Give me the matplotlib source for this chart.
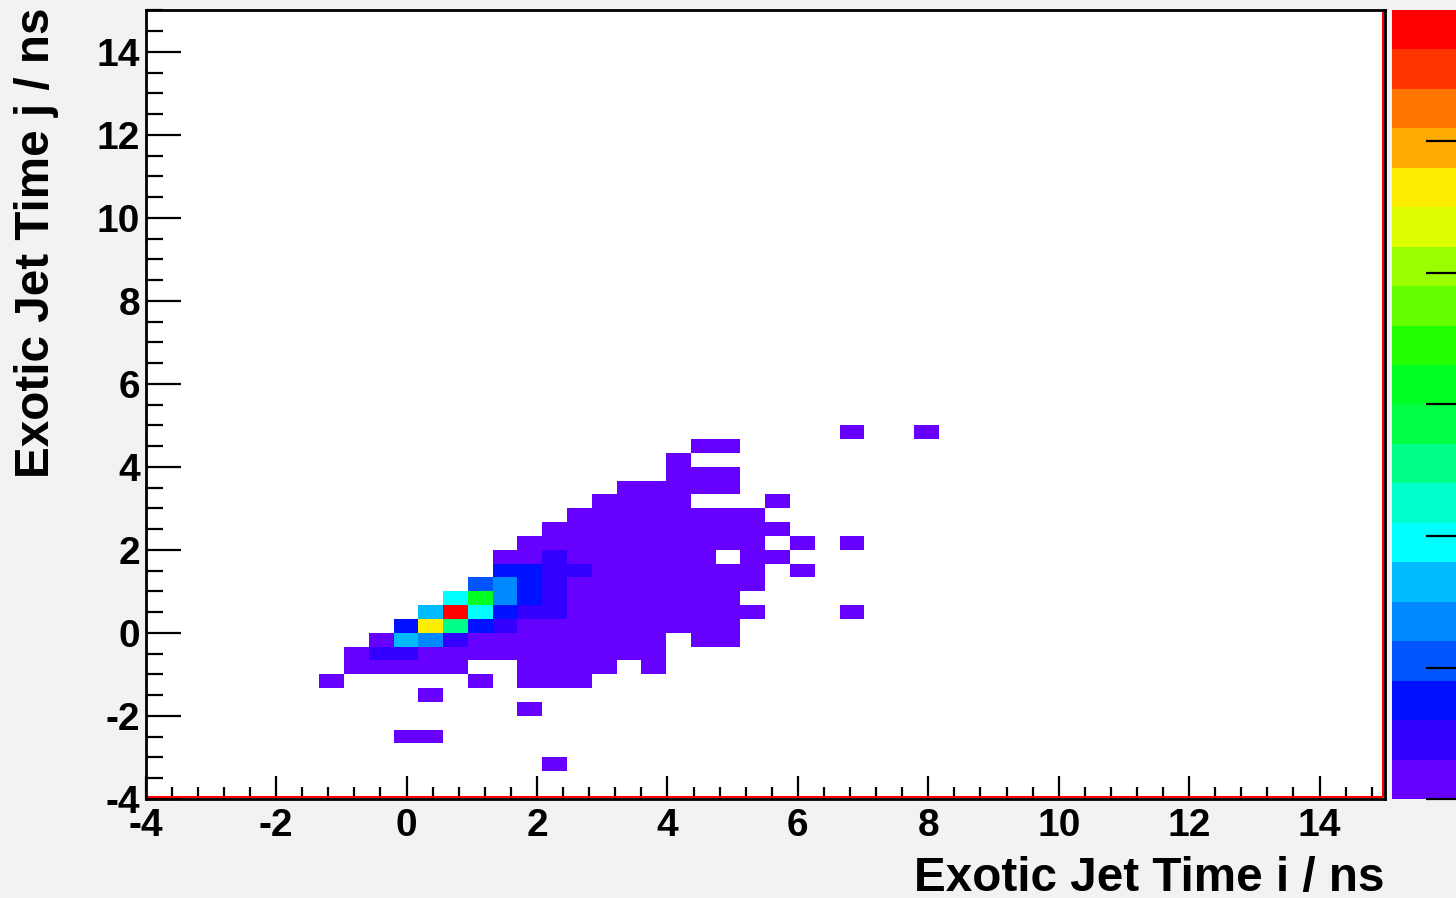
import numpy as np
import matplotlib
matplotlib.use("Agg")
import matplotlib.pyplot as plt
import matplotlib.transforms as mtransforms
from matplotlib.colors import ListedColormap, Normalize
from matplotlib.ticker import MultipleLocator

plt.rcParams['axes.unicode_minus'] = False
plt.rcParams['font.family'] = ['Liberation Sans', 'DejaVu Sans']

# Histogram binning (ns)
x_range = (-4.0, 15.0)
n_xbins = 50
y_range = (-4.0, 15.0)
n_ybins = 57

# Filled region of the histogram: columns start at x-bin 7, rows at y-bin 2
first_xbin = 7
first_ybin = 2

# Bin contents, one row per y-bin, listed from the highest row (y-bin 26) down to y-bin 2
counts_top_down = [
    [0, 0, 0, 0, 0, 0, 0, 0, 0, 0, 0, 0, 0, 0, 0, 0, 0, 0, 0, 0, 0, 1, 0, 0, 1],
    [0, 0, 0, 0, 0, 0, 0, 0, 0, 0, 0, 0, 0, 0, 0, 1, 1, 0, 0, 0, 0, 0, 0, 0, 0],
    [0, 0, 0, 0, 0, 0, 0, 0, 0, 0, 0, 0, 0, 0, 1, 0, 0, 0, 0, 0, 0, 0, 0, 0, 0],
    [0, 0, 0, 0, 0, 0, 0, 0, 0, 0, 0, 0, 0, 0, 1, 1, 1, 0, 0, 0, 0, 0, 0, 0, 0],
    [0, 0, 0, 0, 0, 0, 0, 0, 0, 0, 0, 0, 1, 1, 1, 1, 1, 0, 0, 0, 0, 0, 0, 0, 0],
    [0, 0, 0, 0, 0, 0, 0, 0, 0, 0, 0, 1, 1, 2, 1, 0, 0, 0, 1, 0, 0, 0, 0, 0, 0],
    [0, 0, 0, 0, 0, 0, 0, 0, 0, 0, 1, 2, 2, 2, 1, 1, 1, 1, 0, 0, 0, 0, 0, 0, 0],
    [0, 0, 0, 0, 0, 0, 0, 0, 0, 1, 2, 2, 2, 2, 2, 1, 1, 1, 1, 0, 0, 0, 0, 0, 0],
    [0, 0, 0, 0, 0, 0, 0, 0, 1, 1, 2, 2, 2, 2, 2, 1, 1, 1, 0, 1, 0, 1, 0, 0, 0],
    [0, 0, 0, 0, 0, 0, 0, 1, 1, 4, 2, 2, 2, 2, 2, 1, 0, 1, 1, 0, 0, 0, 0, 0, 0],
    [0, 0, 0, 0, 0, 0, 0, 7, 7, 4, 4, 2, 2, 2, 2, 2, 1, 1, 0, 1, 0, 0, 0, 0, 0],
    [0, 0, 0, 0, 0, 0, 10, 13, 7, 4, 2, 2, 2, 2, 2, 2, 1, 1, 0, 0, 0, 0, 0, 0, 0],
    [0, 0, 0, 0, 0, 19, 31, 13, 7, 4, 2, 2, 2, 2, 2, 1, 1, 0, 0, 0, 0, 0, 0, 0, 0],
    [0, 0, 0, 0, 16, 60, 19, 7, 4, 4, 2, 2, 2, 2, 2, 2, 1, 1, 0, 0, 0, 1, 0, 0, 0],
    [0, 0, 0, 7, 46, 25, 7, 4, 2, 2, 2, 2, 2, 2, 2, 1, 1, 0, 0, 0, 0, 0, 0, 0, 0],
    [0, 0, 1, 16, 13, 4, 2, 2, 2, 2, 2, 2, 2, 1, 0, 1, 1, 0, 0, 0, 0, 0, 0, 0, 0],
    [0, 1, 4, 4, 2, 2, 2, 2, 2, 2, 2, 1, 1, 1, 0, 0, 0, 0, 0, 0, 0, 0, 0, 0, 0],
    [0, 1, 1, 1, 1, 1, 0, 0, 1, 1, 1, 1, 0, 1, 0, 0, 0, 0, 0, 0, 0, 0, 0, 0, 0],
    [1, 0, 0, 0, 0, 0, 1, 0, 1, 1, 1, 0, 0, 0, 0, 0, 0, 0, 0, 0, 0, 0, 0, 0, 0],
    [0, 0, 0, 0, 1, 0, 0, 0, 0, 0, 0, 0, 0, 0, 0, 0, 0, 0, 0, 0, 0, 0, 0, 0, 0],
    [0, 0, 0, 0, 0, 0, 0, 0, 1, 0, 0, 0, 0, 0, 0, 0, 0, 0, 0, 0, 0, 0, 0, 0, 0],
    [0, 0, 0, 0, 0, 0, 0, 0, 0, 0, 0, 0, 0, 0, 0, 0, 0, 0, 0, 0, 0, 0, 0, 0, 0],
    [0, 0, 0, 1, 1, 0, 0, 0, 0, 0, 0, 0, 0, 0, 0, 0, 0, 0, 0, 0, 0, 0, 0, 0, 0],
    [0, 0, 0, 0, 0, 0, 0, 0, 0, 0, 0, 0, 0, 0, 0, 0, 0, 0, 0, 0, 0, 0, 0, 0, 0],
    [0, 0, 0, 0, 0, 0, 0, 0, 0, 1, 0, 0, 0, 0, 0, 0, 0, 0, 0, 0, 0, 0, 0, 0, 0],
]

# Colour scale: 20 contour levels from 0 to the histogram maximum
z_max = 60
palette = [
    '#6600ff', '#3300ff', '#0011ff', '#0055ff', '#0088ff',
    '#00bbff', '#00ffff', '#00ffcc', '#00ff88', '#00ff44',
    '#00ff22', '#22ff00', '#66ff00', '#99ff00', '#ddff00',
    '#ffee00', '#ffaa00', '#ff7700', '#ff3300', '#ff0000',
]
palette_ticks = [0, 10, 20, 30, 40, 50]

x_title = 'Exotic Jet Time i / ns'
y_title = 'Exotic Jet Time j / ns'

# ---------------------------------------------------------------------------
W, H = 1456, 898
fig = plt.figure(figsize=(W / 100, H / 100), dpi=100, facecolor='#f2f2f2')

def frac(x0, y0, x1, y1):
    return [x0 / W, 1 - y1 / H, (x1 - x0) / W, (y1 - y0) / H]

ax = fig.add_axes(frac(145.7, 10.3, 1384.8, 798.8))
ax.set_facecolor('white')

x_edges = np.linspace(x_range[0], x_range[1], n_xbins + 1)
y_edges = np.linspace(y_range[0], y_range[1], n_ybins + 1)

hist = np.zeros((n_ybins, n_xbins))
for r, row in enumerate(counts_top_down[::-1]):
    hist[first_ybin + r, first_xbin:first_xbin + len(row)] = row
hist = np.ma.masked_equal(hist, 0)

cmap = ListedColormap(palette)
norm = Normalize(vmin=0, vmax=z_max)
mesh = ax.pcolormesh(x_edges, y_edges, hist, cmap=cmap, norm=norm,
                     shading='flat', edgecolors='none', antialiased=False)

ax.set_xlim(*x_range)
ax.set_ylim(*y_range)

# Axis ticks (bottom and left only)
px = 0.72
ax.xaxis.set_major_locator(MultipleLocator(2))
ax.xaxis.set_minor_locator(MultipleLocator(0.4))
ax.yaxis.set_major_locator(MultipleLocator(2))
ax.yaxis.set_minor_locator(MultipleLocator(0.5))
ax.tick_params(axis='x', which='major', direction='in', length=23 * px, width=1.6,
               labelsize=28, pad=6.5)
ax.tick_params(axis='x', which='minor', direction='in', length=12 * px, width=1.6)
ax.tick_params(axis='y', which='major', direction='in', length=35 * px, width=1.6,
               labelsize=28, pad=4)
ax.tick_params(axis='y', which='minor', direction='in', length=17 * px, width=1.6)
ax.tick_params(top=False, right=False, which='both')
for lab in ax.get_xticklabels() + ax.get_yticklabels():
    lab.set_fontweight('bold')

for sp in ax.spines.values():
    sp.set_linewidth(2.0)
    sp.set_color('black')
    sp.set_zorder(5)

# Histogram line along the lower and right edges of the frame
shift = mtransforms.ScaledTranslation(-2.2 / 100, 2.2 / 100, fig.dpi_scale_trans)
ax.plot([0, 1, 1], [0, 0, 1], color='red', lw=1.5,
        transform=ax.transAxes + shift, zorder=4)

# Palette axis on the right
cax = fig.add_axes(frac(1392, 10, 1470, 799))
cb = fig.colorbar(mesh, cax=cax)
cb.outline.set_visible(False)
cb.set_ticks(palette_ticks)
cax.tick_params(axis='y', which='major', direction='in', right=True, left=False,
                length=44 * px, width=1.6, color='black', labelright=False)
cax.minorticks_off()

# Axis titles
fig.text(1385 / W, 1 - 891 / H, x_title, ha='right', va='baseline',
         fontsize=34.3, fontweight='bold')
fig.text(49 / W, 1 - 8 / H, y_title, ha='right', va='baseline', rotation=90,
         rotation_mode='anchor', fontsize=34.3, fontweight='bold')

fig.savefig('out.png', dpi=100, facecolor=fig.get_facecolor())
